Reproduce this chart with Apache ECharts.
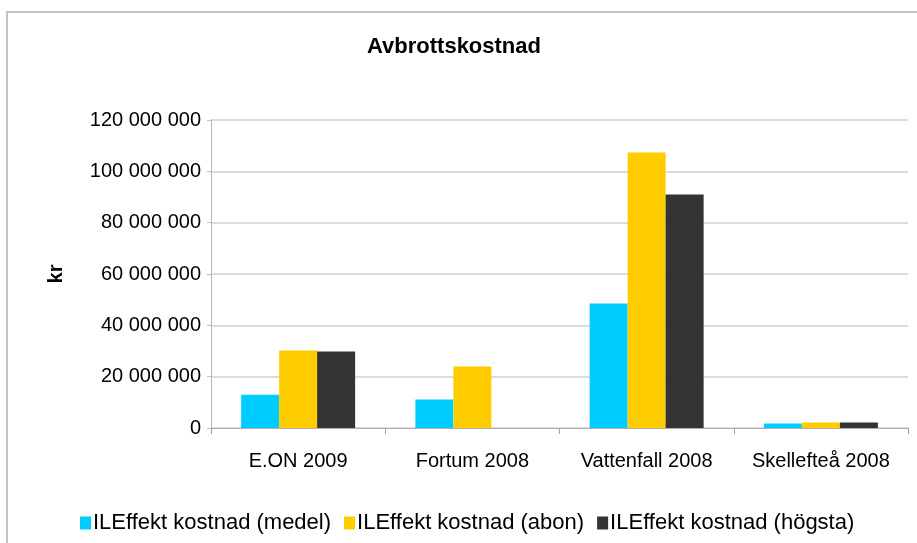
<!DOCTYPE html>
<html>
<head>
<meta charset="utf-8">
<script src="https://cdn.jsdelivr.net/npm/echarts@6/dist/echarts.min.js"></script>
<style>
html,body{margin:0;padding:0;background:#fff;}
#wrap{position:absolute;left:6px;top:11px;width:920px;height:540px;border:2px solid #c4c4c4;box-sizing:border-box;}
#chart{position:absolute;left:0;top:0;width:917px;height:543px;}
</style>
</head>
<body>
<div id="wrap"></div>
<div id="chart"></div>
<script>
const categories = ['E.ON 2009', 'Fortum 2008', 'Vattenfall 2008', 'Skellefteå 2008'];
const seriesNames = ['ILEffekt kostnad (medel)', 'ILEffekt kostnad (abon)', 'ILEffekt kostnad (högsta)'];
const medel = [13000000, 11100000, 48500000, 1800000];
const abon = [30200000, 24000000, 107300000, 2100000];
const hogsta = [29800000, 0, 91000000, 2100000];
const yTicks = [0, 20000000, 40000000, 60000000, 80000000, 100000000, 120000000];
const colors = ['#00ccff', '#ffcc00', '#333333'];

function fmt(v){
  return String(v).replace(/\B(?=(\d{3})+(?!\d))/g, ' ');
}

const chart = echarts.init(document.getElementById('chart'));
const font = 'Liberation Sans, Arial, sans-serif';
chart.setOption({
  backgroundColor: 'transparent',
  animation: false,
  title: {
    text: 'Avbrottskostnad',
    left: 362,
    top: 31,
    textStyle: {fontFamily: font, fontSize: 22, fontWeight: 'bold', color: '#000'}
  },
  legend: {
    bottom: 4,
    left: 75,
    itemWidth: 11,
    itemHeight: 13,
    itemGap: 13,
    icon: 'rect',
    textStyle: {fontFamily: font, fontSize: 22, color: '#000', padding: [0,0,0,-3]},
    data: seriesNames
  },
  grid: {left: 211, right: 9, top: 120, bottom: 115, containLabel: false},
  xAxis: {
    type: 'category',
    data: categories,
    axisLine: {lineStyle: {color: '#b0b0b0', width: 1}},
    axisTick: {show: true, length: 6, lineStyle: {color: '#a0a0a0'}},
    axisLabel: {fontFamily: font, fontSize: 20, color: '#000', margin: 23, interval: 0}
  },
  yAxis: {
    type: 'value',
    min: yTicks[0],
    max: yTicks[yTicks.length - 1],
    interval: yTicks[1] - yTicks[0],
    name: 'kr',
    nameLocation: 'middle',
    nameGap: 145,
    nameRotate: 90,
    nameTextStyle: {fontFamily: font, fontSize: 20, fontWeight: 'bold', color: '#000'},
    axisLine: {show: true, lineStyle: {color: '#b8b8b8', width: 1}},
    axisTick: {show: true, length: 4, lineStyle: {color: '#c0c0c0'}},
    axisLabel: {fontFamily: font, fontSize: 20, color: '#000', margin: 10, formatter: fmt},
    splitLine: {lineStyle: {color: '#dcdcdc', width: 2}}
  },
  series: [
    {name: seriesNames[0], type: 'bar', data: medel, barWidth: 38, barGap: '0%', itemStyle: {color: colors[0]}},
    {name: seriesNames[1], type: 'bar', data: abon, barWidth: 38, barGap: '0%', itemStyle: {color: colors[1]}},
    {name: seriesNames[2], type: 'bar', data: hogsta, barWidth: 38, barGap: '0%', itemStyle: {color: colors[2]}}
  ]
});
</script>
</body>
</html>
